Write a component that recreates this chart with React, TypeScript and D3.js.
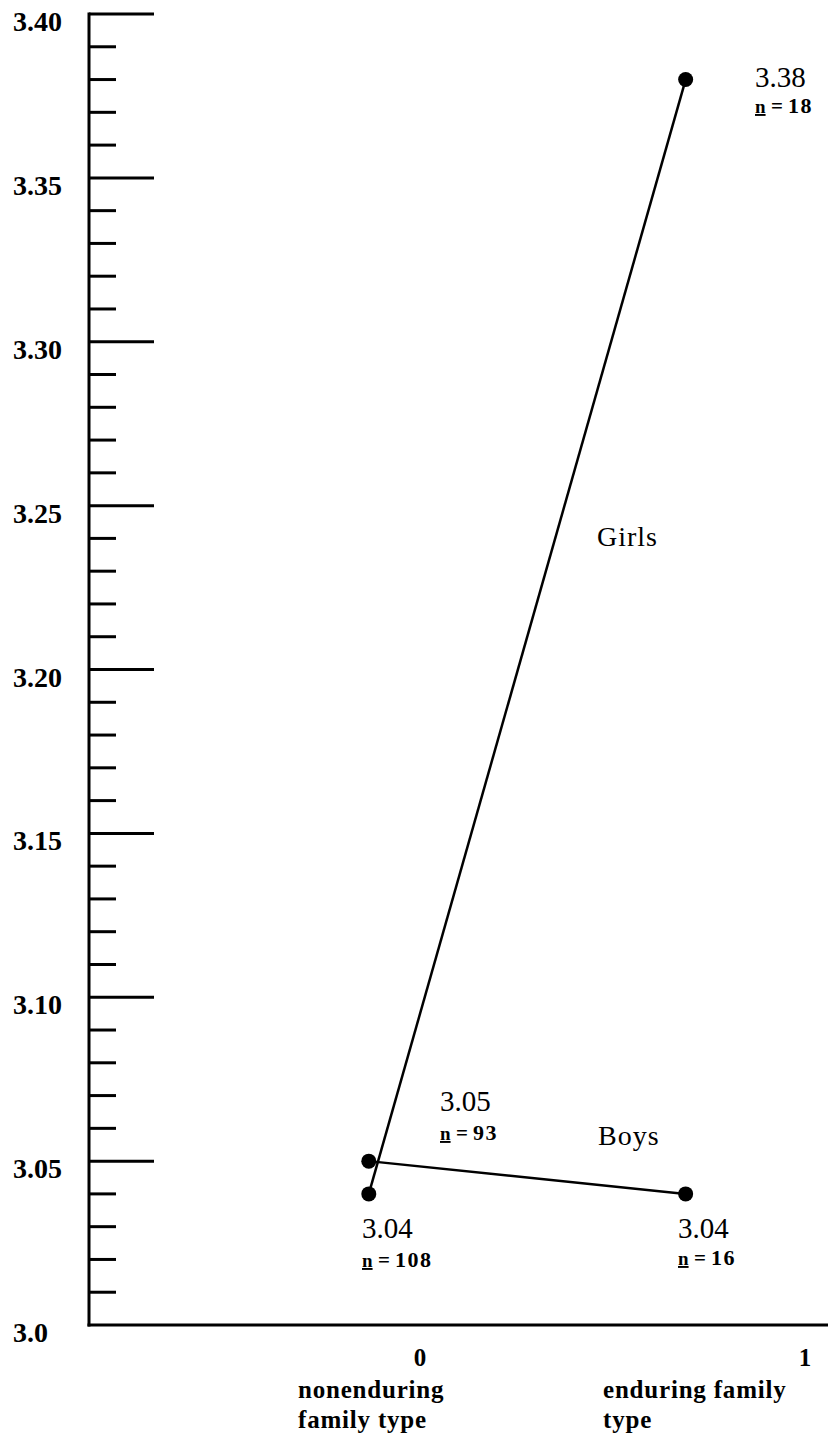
import React from "react";
import * as d3 from "d3";

const W = 828;
const H = 1449;

// Data
const groups = ["Girls", "Boys"];
const xPositions = [-0.133, 0.69]; // nonenduring, enduring (in x-axis units)
const girlsValues = [3.04, 3.38];
const boysValues = [3.05, 3.04];
const girlsN = [108, 18];
const boysN = [93, 16];
const majorTicks = [3.0, 3.05, 3.1, 3.15, 3.2, 3.25, 3.3, 3.35, 3.4];
const majorTickLabels = ["3.0", "3.05", "3.10", "3.15", "3.20", "3.25", "3.30", "3.35", "3.40"];
const xTicks = [0, 1];
const xTickLabels = ["0", "1"];
const xCategoryLines = [["nonenduring", "family type"], ["enduring family", "type"]];

const FONT = "'Liberation Serif', 'Times New Roman', serif";

export default function App() {
  const y = d3.scaleLinear().domain([3.0, 3.4]).range([1325, 14]);
  const x = d3.scaleLinear().domain([0, 1]).range([420, 805]);
  const axisX = 89;
  const minorTicks = d3.range(0, 41).map((i) => 3.0 + i * 0.01).filter((v, i) => i % 5 !== 0);
  const line = d3
    .line<[number, number]>()
    .x((d) => x(d[0]))
    .y((d) => y(d[1]));

  const girlsPts: [number, number][] = xPositions.map((xv, i) => [xv, girlsValues[i]]);
  const boysPts: [number, number][] = xPositions.map((xv, i) => [xv, boysValues[i]]);

  const NLabel = ({ px, py, n }: { px: number; py: number; n: number }) => (
    <g fontFamily={FONT} fontWeight="bold" fill="#000">
      <text x={px} y={py} fontSize={19} textDecoration="underline">n</text>
      <text x={px + 16} y={py} fontSize={21}>=</text>
      <text x={px + 33} y={py} fontSize={22} letterSpacing={1.5}>{n}</text>
    </g>
  );

  return (
    <svg
      width={W}
      height={H}
      style={{ position: "absolute", left: 0, top: 0, background: "#fff" }}
    >
      <rect x={0} y={0} width={W} height={H} fill="#fff" />
      {/* Y axis */}
      <line x1={axisX} x2={axisX} y1={y(3.4) - 1.5} y2={y(3.0) + 1.5} stroke="#000" strokeWidth={3} />
      {/* X axis */}
      <line x1={axisX - 1.5} x2={W} y1={y(3.0)} y2={y(3.0)} stroke="#000" strokeWidth={3} />
      {majorTicks.map((t, i) => (
        <g key={"M" + i}>
          {t > 3.0 && (
            <line x1={axisX} x2={154} y1={y(t)} y2={y(t)} stroke="#000" strokeWidth={3} />
          )}
          <text
            x={13}
            y={y(t) + 17}
            fontFamily={FONT}
            fontWeight="bold"
            fontSize={28}
            fill="#000"
          >
            {majorTickLabels[i]}
          </text>
        </g>
      ))}
      {minorTicks.map((t, i) => (
        <line key={"m" + i} x1={axisX} x2={116} y1={y(t)} y2={y(t)} stroke="#000" strokeWidth={3} />
      ))}
      {/* X tick labels */}
      {xTicks.map((t, i) => (
        <text
          key={"xt" + i}
          x={x(t)}
          y={1366}
          textAnchor="middle"
          fontFamily={FONT}
          fontWeight="bold"
          fontSize={25}
        >
          {xTickLabels[i]}
        </text>
      ))}
      {xCategoryLines.map((lines, i) =>
        lines.map((l, j) => (
          <text
            key={"xc" + i + "-" + j}
            x={i === 0 ? 298 : 603}
            y={1398 + j * 30}
            fontFamily={FONT}
            fontWeight="bold"
            fontSize={25}
            letterSpacing={0.8}
          >
            {l}
          </text>
        ))
      )}
      {/* Lines */}
      <path d={line(girlsPts) || ""} fill="none" stroke="#000" strokeWidth={2.5} />
      <path d={line(boysPts) || ""} fill="none" stroke="#000" strokeWidth={2.5} />
      {girlsPts.map((p, i) => (
        <circle key={"g" + i} cx={x(p[0])} cy={y(p[1])} r={7.5} fill="#000" />
      ))}
      {boysPts.map((p, i) => (
        <circle key={"b" + i} cx={x(p[0])} cy={y(p[1])} r={7.5} fill="#000" />
      ))}
      {/* Value labels */}
      <g fontFamily={FONT} fontSize={29} fill="#000">
        <text x={755} y={87}>{girlsValues[1].toFixed(2)}</text>
        <text x={362} y={1238}>{girlsValues[0].toFixed(2)}</text>
        <text x={440} y={1111}>{boysValues[0].toFixed(2)}</text>
        <text x={678} y={1238}>{boysValues[1].toFixed(2)}</text>
      </g>
      <NLabel px={755} py={113} n={girlsN[1]} />
      <NLabel px={362} py={1267} n={girlsN[0]} />
      <NLabel px={440} py={1140} n={boysN[0]} />
      <NLabel px={678} py={1265} n={boysN[1]} />
      {/* Group labels */}
      <g fontFamily={FONT} fontSize={28} letterSpacing={1} fill="#000">
        <text x={597} y={546}>{groups[0]}</text>
        <text x={598} y={1145}>{groups[1]}</text>
      </g>
    </svg>
  );
}
